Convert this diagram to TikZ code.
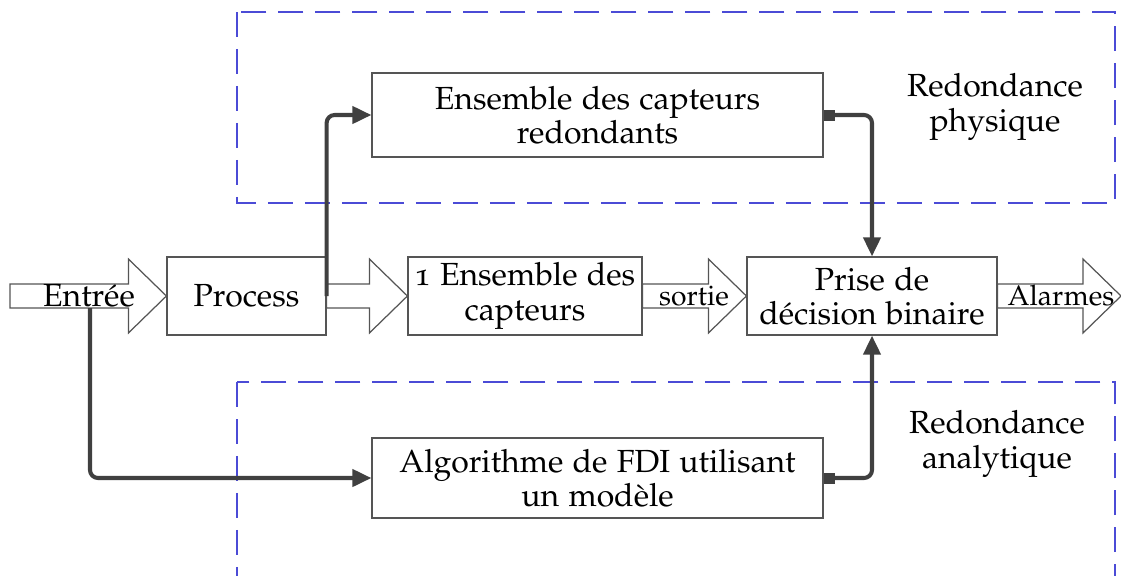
\documentclass[tikz,border=0pt]{standalone}
\usepackage[T1]{fontenc}
\usepackage[osf]{mathpazo}
\usepackage{tikz}
\usetikzlibrary{arrows.meta,calc}
\definecolor{gristrait}{HTML}{404040}
\definecolor{grisbord}{HTML}{555555}
\definecolor{bleutiret}{HTML}{4B4BD6}

% grosse fleche creuse entre deux points horizontaux
\newcommand{\grossefleche}[2]{%
  \draw[grisbord, line width=0.7pt, fill=white]
    ($(#1)+(0,-12)$) -- ($(#2)+(-38,-12)$) -- ($(#2)+(-38,-37)$) -- (#2)
    -- ($(#2)+(-38,37)$) -- ($(#2)+(-38,12)$) -- ($(#1)+(0,12)$) -- cycle;}

\begin{document}
\begin{tikzpicture}[x=0.02cm, y=-0.02cm,
    every node/.style={font=\fontsize{18.2}{19.6}\selectfont},
    petit/.style={font=\fontsize{16.1}{18}\selectfont},
    bloc/.style={draw=grisbord, line width=0.7pt, fill=white, align=center, inner sep=0pt},
    zone/.style={draw=bleutiret, line width=0.6pt, dash pattern=on 0.5cm off 0.24cm},
    liaison/.style={draw=gristrait, line width=2.3pt, rounded corners=0.16cm,
      -{Triangle[length=0.38cm, width=0.34cm]}},
    liaisonc/.style={liaison, {Square[length=0.22cm, width=0.22cm]}-{Triangle[length=0.38cm, width=0.34cm]}}]
    \useasboundingbox (0,0) rectangle (1121,575);
    \clip (0,0) rectangle (1121,575);

    % zones de redondance
    \draw[zone] (237,12) rectangle (1115,203);
    \draw[zone] (237,382) rectangle (1115,620);
    \node (physique) at (995,107) [align=center] {Redondance\\physique};
    \node (analytique) at (997,444) [align=center] {Redondance\\analytique};

    % blocs
    \node[bloc, minimum width=3.18cm, minimum height=1.56cm] (process) at (246.5,296) {Process};
    \node[bloc, minimum width=9.02cm, minimum height=1.68cm] (redondants) at (597.5,115)
      {Ensemble des capteurs\\redondants};
    \node[bloc, minimum width=4.68cm, minimum height=1.56cm] (capteurs) at (525,296)
      {1 Ensemble des\\capteurs};
    \node[bloc, minimum width=5cm, minimum height=1.56cm] (decision) at (872,296)
      {Prise de\\d\'ecision binaire};
    \node[bloc, minimum width=9.02cm, minimum height=1.6cm] (algo) at (597.5,478)
      {Algorithme de FDI utilisant\\un mod\`ele};

    % grosses fleches
    \coordinate (entree) at (10,296);
    \coordinate (sortiealarme) at (1121,296);
    \grossefleche{entree}{process.west}
    \grossefleche{process.east}{capteurs.west}
    \grossefleche{capteurs.east}{decision.west}
    \grossefleche{decision.east}{sortiealarme}
    \node (lentree) at (89,296) {Entr\'ee};
    \node[petit] (lsortie) at (694,296) {sortie};
    \node[petit] (lalarmes) at (1061,296) {Alarmes};

    % liaisons
    \coordinate (depart) at (90,308);
    \draw[liaison] (process.east) |- (redondants.west);
    \draw[liaisonc] (redondants.east) -| (decision.north);
    \draw[liaison] (depart) |- (algo.west);
    \draw[liaisonc] (algo.east) -| (decision.south);
\end{tikzpicture}
\end{document}
